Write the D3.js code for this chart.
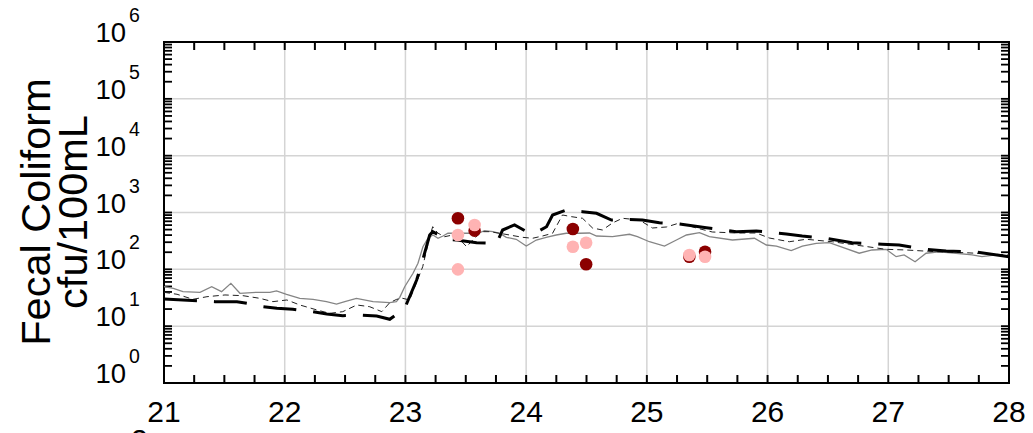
<!DOCTYPE html>
<html>
<head>
<meta charset="utf-8">
<script src="https://cdn.jsdelivr.net/npm/d3@7"></script>
<style>
  html, body { margin: 0; padding: 0; background: #fff; }
  svg { display: block; font-family: Arial, "Liberation Sans", sans-serif; }
</style>
</head>
<body>
<svg id="chart" width="1033" height="433"></svg>
<script>
// ---------------- data (day of month, cfu/100mL) ----------------
const xTickLabels = ["21", "22", "23", "24", "25", "26", "27", "28"];
const yDecades = [0, 1, 2, 3, 4, 5, 6];

const grayDays = [21.0,21.077,21.157,21.298,21.395,21.477,21.554,21.629,21.767,21.877,21.932,22.015,22.125,22.235,22.346,22.429,22.498,22.594,22.732,22.870,22.925,22.953,22.994,23.063,23.104,23.145,23.187,23.228,23.270,23.311,23.352,23.505,23.601,23.656,23.725,23.780,23.836,23.918,24.001,24.084,24.166,24.249,24.332,24.442,24.525,24.583,24.715,24.856,24.922,25.021,25.146,25.245,25.328,25.436,25.518,25.709,25.891,25.990,26.073,26.196,26.288,26.403,26.511,26.593,26.759,26.866,26.982,27.065,27.131,27.222,27.313,27.421,27.561,27.694,27.776,27.892,28.0];
const grayVals = [49.5,46.4,40.4,39.4,49.5,40.4,56.8,37.9,39.4,39.4,41.6,36.4,30.9,29.7,27.0,24.5,27.0,30.9,27.0,25.9,27.0,32.2,49.5,85.2,128,250,352,402,352,386,431,431,431,479,460,431,366,338,257,328,366,402,431,431,436,386,375,414,375,306,257,328,402,441,375,328,352,268,257,213,257,287,294,257,192,219,225,167,179,136,192,204,192,179,167,179,172];

const thinDays = [21.0,21.108,21.240,21.356,21.505,21.654,21.794,21.902,22.018,22.125,22.266,22.373,22.481,22.597,22.704,22.804,22.870,22.928,22.977,23.035,23.143,23.201,23.226,23.267,23.325,23.391,23.449,23.507,23.557,23.631,23.697,23.780,23.863,23.970,24.053,24.136,24.219,24.301,24.376,24.467,24.550,24.632,24.715,24.798,24.938,25.046,25.162,25.269,25.410,25.542,25.740,25.906,26.014,26.180,26.320,26.535,26.982,27.148,27.396,27.644,28.0];
const thinVals = [39.4,36.4,29.7,33.0,35.4,34.4,30.9,27.0,28.9,23.6,19.3,16.8,18.0,23.6,22.0,18.0,25.9,29.7,30.9,28.9,111,375,563,436,375,402,338,250,328,460,460,431,402,366,352,386,431,904,844,791,534,492,654,791,738,534,556,654,534,454,436,436,356,306,338,306,225,219,204,196,179];

const thickDays = [21.0,21.273,21.422,21.604,21.687,21.819,21.935,22.067,22.225,22.349,22.481,22.622,22.762,22.870,22.994,23.093,23.143,23.201,23.226,23.342,23.424,23.590,23.755,23.805,23.904,24.028,24.111,24.169,24.219,24.334,24.467,24.583,24.707,24.798,24.963,25.104,25.269,25.493,25.741,25.907,26.155,26.287,26.485,26.701,26.949,27.090,27.313,27.479,27.727,28.0];
const thickVals = [30.1,28.1,27.0,27.0,25.3,22.0,20.6,19.8,18.0,16.4,15.3,15.7,15.1,13.2,20.6,65,146,402,460,338,328,294,287,492,603,431,479,563,904,1107,1033,968,738,760,738,662,628,541,460,473,419,386,352,294,276,268,225,210,202,167];

const darkDays = [23.435, 23.573, 24.387, 24.497, 25.352, 25.482];
const darkVals = [791, 479, 513, 123, 167, 204];
const pinkDays = [23.573, 23.435, 23.435, 24.387, 24.497, 25.352, 25.482];
const pinkVals = [603, 402, 100, 250, 294, 179, 167];

// ---------------- layout ----------------
const svg = d3.select("#chart");
const L = 164, R = 1009, T = 42, B = 383;
const x = d3.scaleLinear().domain([21, 28]).range([L, R]);
const y = d3.scaleLog().domain([1, 1e6]).range([B, T]);

// grid
const grid = svg.append("g");
grid.selectAll("line.vg").data(d3.range(22, 28)).join("line")
  .attr("x1", d => x(d)).attr("x2", d => x(d)).attr("y1", T).attr("y2", B)
  .attr("stroke", "#d4d4d4").attr("stroke-width", 1.5);
grid.selectAll("line.hg").data(d3.range(1, 6)).join("line")
  .attr("y1", d => y(Math.pow(10, d))).attr("y2", d => y(Math.pow(10, d)))
  .attr("x1", L).attr("x2", R)
  .attr("stroke", "#d4d4d4").attr("stroke-width", 1.5);

// ticks (inward)
const tickLen = 8;
const xMinor = d3.range(21, 28.001, 0.25);
const ticks = svg.append("g").attr("stroke", "#000").attr("stroke-width", 2);
ticks.selectAll("line.xb").data(xMinor).join("line")
  .attr("x1", d => x(d)).attr("x2", d => x(d)).attr("y1", B).attr("y2", B - tickLen);
ticks.selectAll("line.xt").data(xMinor).join("line")
  .attr("x1", d => x(d)).attr("x2", d => x(d)).attr("y1", T).attr("y2", T + tickLen);
const yMinor = [];
for (let e = 0; e < 6; e++) for (let m = 1; m <= 9; m++) yMinor.push(m * Math.pow(10, e));
yMinor.push(1e6);
ticks.selectAll("line.yl").data(yMinor).join("line")
  .attr("y1", d => y(d)).attr("y2", d => y(d)).attr("x1", L).attr("x2", L + tickLen)
  .attr("stroke-width", 1.8);
ticks.selectAll("line.yr").data(yMinor).join("line")
  .attr("y1", d => y(d)).attr("y2", d => y(d)).attr("x1", R).attr("x2", R - tickLen)
  .attr("stroke-width", 1.8);

// frame
svg.append("rect").attr("x", L).attr("y", T).attr("width", R - L).attr("height", B - T)
  .attr("fill", "none").attr("stroke", "#000").attr("stroke-width", 2);

// series lines
const line = (days, vals) => d3.line().x((d, i) => x(days[i])).y((d, i) => y(vals[i]))(days);
svg.append("path").attr("d", line(grayDays, grayVals))
  .attr("fill", "none").attr("stroke", "#858585").attr("stroke-width", 1.3);
svg.append("path").attr("d", line(thinDays, thinVals))
  .attr("fill", "none").attr("stroke", "#222").attr("stroke-width", 1)
  .attr("stroke-dasharray", "6,4");
svg.append("path").attr("d", line(thickDays, thickVals))
  .attr("fill", "none").attr("stroke", "#000").attr("stroke-width", 3)
  .attr("stroke-dasharray", "33,17");

// points
svg.append("g").selectAll("circle").data(darkDays).join("circle")
  .attr("cx", (d, i) => x(d)).attr("cy", (d, i) => y(darkVals[i])).attr("r", 6.3)
  .attr("fill", "#8b0000");
svg.append("g").selectAll("circle").data(pinkDays).join("circle")
  .attr("cx", (d, i) => x(d)).attr("cy", (d, i) => y(pinkVals[i])).attr("r", 6.3)
  .attr("fill", "#ffb3b3");

// x tick labels
svg.append("g").selectAll("text").data(xTickLabels).join("text")
  .attr("x", d => x(+d)).attr("y", 422)
  .attr("text-anchor", "middle").attr("font-size", 30).attr("fill", "#000")
  .text(d => d);

// partially visible text below axis (cut off in the reference too)
svg.append("text").attr("x", 131).attr("y", 450).attr("font-size", 30).text("2");

// y tick labels: 10^n
const yl = svg.append("g");
yl.selectAll("text.base").data(yDecades).join("text")
  .attr("x", 126).attr("y", d => y(Math.pow(10, d)))
  .attr("text-anchor", "end").attr("font-size", 27.5).text("10");
yl.selectAll("text.exp").data(yDecades).join("text")
  .attr("x", 129).attr("y", d => y(Math.pow(10, d)) - 20)
  .attr("text-anchor", "start").attr("font-size", 19.5).text(d => d);

// y axis title
const yt = svg.append("text").attr("transform", "translate(50,212) rotate(-90)")
  .attr("text-anchor", "middle").attr("font-size", 41.5);
yt.append("tspan").attr("x", 0).attr("y", 0).text("Fecal Coliform");
yt.append("tspan").attr("x", 0).attr("y", 37).text("cfu/100mL");
</script>
</body>
</html>
